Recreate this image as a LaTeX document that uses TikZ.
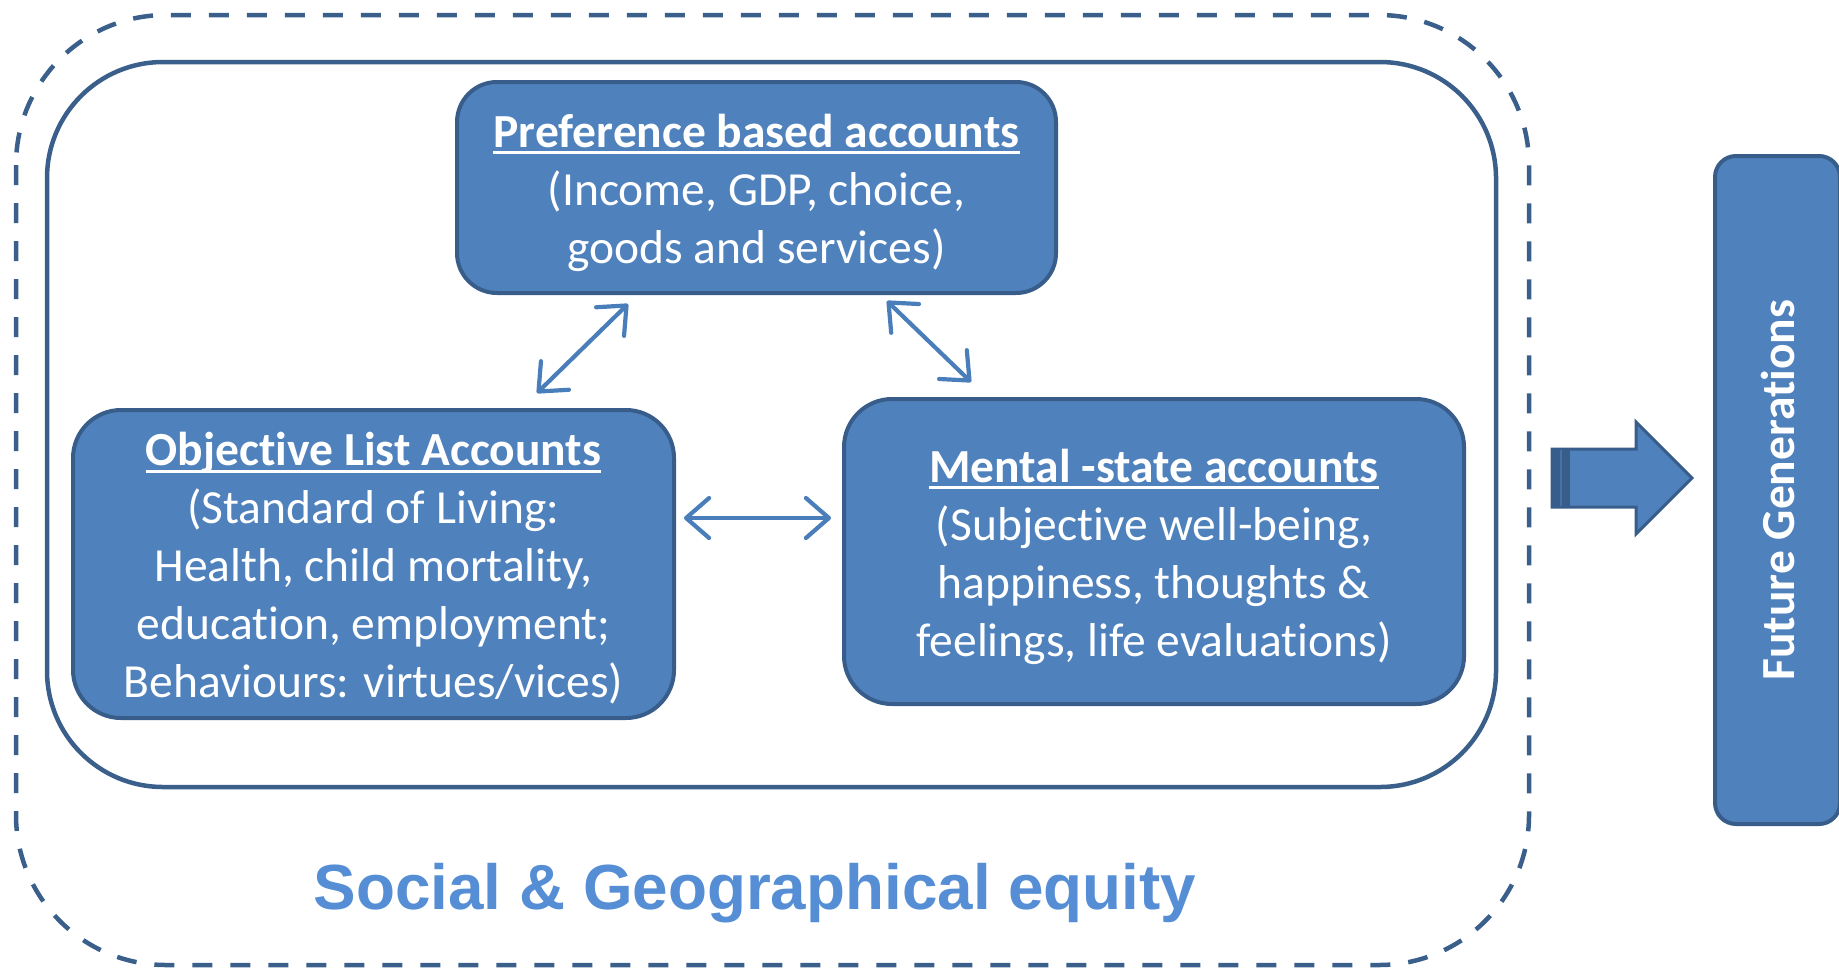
\documentclass[tikz,border=0pt]{standalone}
\usepackage{fontspec}
\setmainfont[Ligatures=NoCommon,RawFeature={-liga;-clig;-dlig;-calt}]{Carlito}
\newfontfamily\arialfont{Liberation Sans}
\usetikzlibrary{arrows.meta}
\definecolor{boxfill}{HTML}{4F81BD}
\definecolor{boxline}{HTML}{385D8A}
\definecolor{frameline}{HTML}{3A5F8B}
\definecolor{arrowcol}{HTML}{4A7EBB}
\definecolor{equitycol}{HTML}{558ED5}
\newcommand{\myul}[1]{\setbox0\hbox{#1}\rlap{\rule[-3.6pt]{\wd0}{1.5pt}}\box0}
\newcommand{\tI}{t\kern0pt i}
\tikzset{
  acctbox/.style={draw=boxline, fill=boxfill, line width=2pt, inner sep=0pt},
  accttext/.style={text=white, align=center, inner sep=0pt, font=\fontsize{23.75}{29}\selectfont},
  dblarrow/.style={draw=arrowcol, line width=2.1pt, line cap=round,
    {Straight Barb[length=11.5pt,width=20pt,round]}-{Straight Barb[length=11.5pt,width=20pt,round]}},
  framestyle/.style={draw=frameline, line width=2.25pt},
}
\begin{document}
\begin{tikzpicture}[x=0.5pt,y=-0.5pt]
\useasboundingbox (0,0) rectangle (1839,969);
% outer frames
\draw[framestyle, dash pattern=on 10pt off 9pt, rounded corners=75pt] (16,15) rectangle (1529,965);
\draw[framestyle, rounded corners=58pt] (47,62) rectangle (1496,787);
% account boxes
\node[acctbox, rounded corners=20pt, minimum width=299.5pt, minimum height=105.5pt] (pref) at (756.5,187.5) {};
\node[accttext] (preftext) at ([yshift=-2.5pt]pref.center)
  {\textbf{\myul{Preference based accounts}}\\(Income, GDP, choice,\\goods and services)};
\node[acctbox, rounded corners=24pt, minimum width=300.5pt, minimum height=154pt] (obj) at (373.5,564) {};
\node[accttext] (objtext) at ([yshift=-2pt]obj.center)
  {\textbf{\myul{Objec\tI ve List Accounts}}\\(Standard of Living:\\Health, child mortality,\\education, employment;\\Behaviours: virtues/vices)};
\node[acctbox, rounded corners=24pt, minimum width=310pt, minimum height=152.5pt] (ment) at (1154,551.5) {};
\node[accttext] (menttext) at ([yshift=-2.5pt]ment.center)
  {\textbf{\myul{Mental -state accounts}}\\(Subjec\tI ve well-being,\\happiness, thoughts \&\\feelings, life evalua\tI ons)};
% double arrows
\coordinate (a1s) at (537,393); \coordinate (a1e) at (628,304);
\coordinate (a2s) at (887,301); \coordinate (a2e) at (971,382);
\coordinate (a3s) at (684,518); \coordinate (a3e) at (831,518);
\draw[dblarrow] (a1s) -- (a1e);
\draw[dblarrow] (a2s) -- (a2e);
\draw[dblarrow] (a3s) -- (a3e);
% future generations
\node[acctbox, rotate=90, rounded corners=10.5pt, minimum width=334pt, minimum height=62.5pt,
  text=white, font=\bfseries\fontsize{23.75}{29}\selectfont] (future) at (1777.5,490) {Future Genera\tI ons};
% block arrow
\draw[draw=boxline, fill=boxfill, line width=1.5pt, line join=miter]
  (1552,449) -- (1636,449) -- (1636,422) -- (1692,478) -- (1636,534) -- (1636,507) -- (1552,507) -- cycle;
\fill[boxline] (1552,449) rectangle (1570,507);
\draw[boxfill!60!boxline, line width=0.6pt] (1561,450) -- (1561,506);
% equity label
\node[text=equitycol, anchor=base, inner sep=0pt, font=\arialfont\bfseries\fontsize{31.9}{38}\selectfont] (equity) at (755,909)
  {Social \& Geographical equity};
\end{tikzpicture}
\end{document}
